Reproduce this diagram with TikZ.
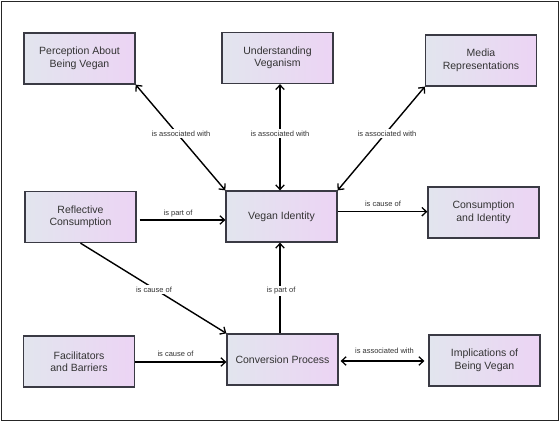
\documentclass[tikz,border=0pt]{standalone}
\usepackage{fontspec}
\setmainfont{Liberation Sans}
\usetikzlibrary{arrows.meta}
\definecolor{boxleft}{HTML}{E2E5EE}
\definecolor{boxright}{HTML}{ECD4F4}
\definecolor{boxedge}{HTML}{3A3A44}
\definecolor{txt}{HTML}{333333}
\tikzset{
  concept/.style={rectangle, draw=boxedge, line width=1.3pt, left color=boxleft, right color=boxright,
    minimum width=111pt, minimum height=51pt, align=center, font=\fontsize{10.5}{12.5}\selectfont, text=txt, inner sep=2pt},
  link/.style={line width=1.4pt, draw=black},
  tip/.style={-{Straight Barb[length=4.5pt,width=8.5pt,line width=1.3pt]}},
  bitip/.style={{Straight Barb[length=4.5pt,width=8.5pt,line width=1.3pt]}-{Straight Barb[length=4.5pt,width=8.5pt,line width=1.3pt]}},
  lbl/.style={font=\fontsize{7.5}{9}\selectfont, text=txt, fill=white, inner sep=1.5pt}
}
\begin{document}
\begin{tikzpicture}[x=1pt,y=-1pt]
\useasboundingbox (0,0) rectangle (560,422);
\fill[white] (0,0) rectangle (560,422);
\draw[line width=1.2pt, draw=black!85] (1.2,1.2) rectangle (558.5,420.5);

\node[concept] (perc) at (79.5,58.5) {Perception About\\Being Vegan};
\node[concept] (und) at (277.5,58) {Understanding\\Veganism};
\node[concept] (media) at (481,60.5) {Media\\Representations};
\node[concept] (refl) at (80.5,217) {Reflective\\Consumption};
\node[concept] (vegan) at (281.5,216.5) {Vegan Identity};
\node[concept] (cons) at (483.5,212.5) {Consumption\\and Identity};
\node[concept] (fac) at (79,361.5) {Facilitators\\and Barriers};
\node[concept] (conv) at (282.5,359.5) {Conversion Process};
\node[concept] (impl) at (484.5,360.5) {Implications of\\Being Vegan};

% connectors
\draw[link,bitip] (perc.south east) -- (vegan.north west);
\draw[link,bitip] ([xshift=2.5pt]und.south) -- ([xshift=-1.5pt]vegan.north);
\draw[link,bitip] (media.south west) -- (vegan.north east);
\draw[link,tip] ([xshift=3pt,yshift=-3pt]refl.east) -- ([yshift=-3.5pt]vegan.west);
\draw[link,tip] ([yshift=4.8pt]vegan.east) -- ([yshift=0.8pt]cons.west);
\draw[link,tip] (refl.south) -- (conv.north west);
\draw[link,tip] ([xshift=-2.5pt]conv.north) -- ([xshift=-1.5pt]vegan.south);
\draw[link,tip] ([yshift=-0.5pt]fac.east) -- ([yshift=-2.5pt]conv.west);
\draw[link,bitip] ([xshift=2pt,yshift=-1.5pt]conv.east) -- ([xshift=-4pt,yshift=-0.5pt]impl.west);

% labels
\node[lbl] (l1) at (181,133.5) {is associated with};
\node[lbl] (l2) at (280,133.5) {is associated with};
\node[lbl] (l3) at (387,133.5) {is associated with};
\node[lbl] (l4) at (178,213.5) {is part of};
\node[lbl] (l5) at (383,203.5) {is cause of};
\node[lbl] (l6) at (154,289.5) {is cause of};
\node[lbl] (l7) at (281,291) {is part of};
\node[lbl] (l8) at (175.5,354) {is cause of};
\node[lbl] (l9) at (384.5,351) {is associated with};
\end{tikzpicture}
\end{document}
